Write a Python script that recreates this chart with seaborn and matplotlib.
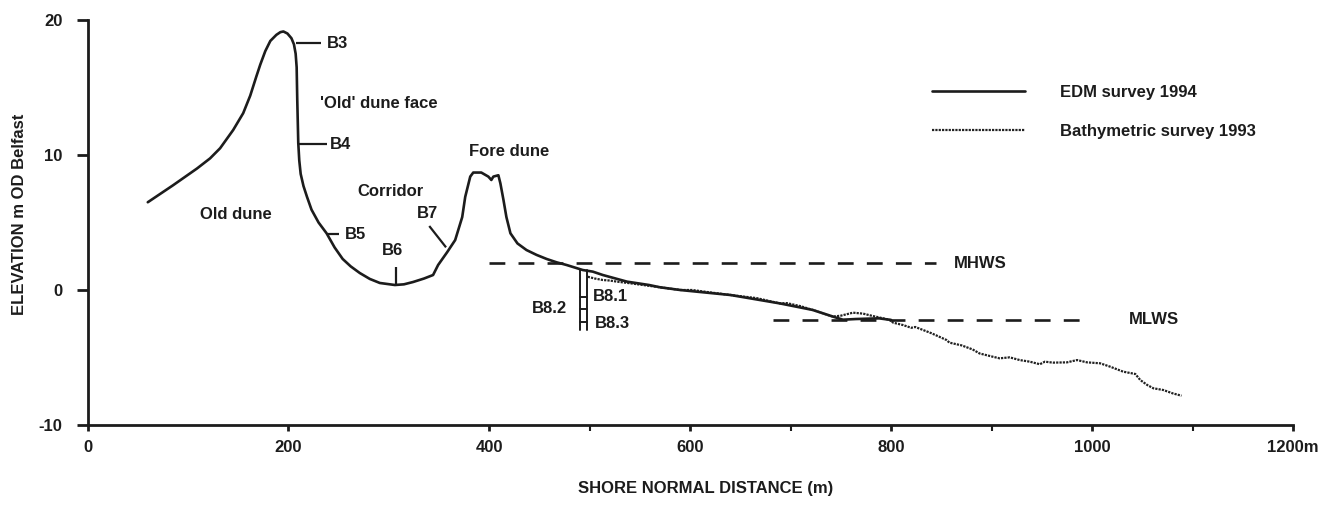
import numpy as np
import pandas as pd
import matplotlib
matplotlib.use("Agg")
import matplotlib.pyplot as plt
from matplotlib.ticker import FixedLocator
import seaborn as sns

# ---------------- data ----------------
edm_x = [60, 85, 109, 122, 132, 145, 155, 162, 168, 172, 177, 182, 188, 192, 195, 199, 203,
         205.5, 207.2, 208.2, 208.8, 209.8, 210.8, 212.2, 215, 218.5, 223, 230, 238, 246, 254,
         262, 271, 281, 291, 306, 315, 324, 335, 344, 349, 358, 366, 373, 376, 381, 384, 392,
         399, 402, 404, 409, 411, 414, 417, 421, 428, 437, 447, 457, 467, 477, 493, 503, 513,
         537, 559, 570, 590, 606, 640, 689, 722, 742, 752, 765, 788, 800]
edm_y = [6.5, 7.75, 9.0, 9.75, 10.5, 11.85, 13.1, 14.4, 15.8, 16.7, 17.7, 18.45, 18.9, 19.1,
         19.15, 19.0, 18.65, 18.2, 17.5, 16.5, 14.1, 10.9, 9.6, 8.6, 7.7, 6.9, 5.95, 5.0, 4.2,
         3.15, 2.3, 1.75, 1.26, 0.82, 0.52, 0.37, 0.42, 0.59, 0.85, 1.11, 1.85, 2.8, 3.7, 5.4,
         6.9, 8.4, 8.7, 8.7, 8.4, 8.15, 8.4, 8.5, 7.9, 6.7, 5.4, 4.2, 3.45, 2.96, 2.6, 2.3,
         2.05, 1.85, 1.48, 1.36, 1.11, 0.62, 0.37, 0.2, 0.0, -0.12, -0.37, -0.99, -1.48, -1.97,
         -2.2, -2.15, -2.1, -2.22]

bathy_x = [498, 505, 513, 520, 527, 540, 553, 570, 590, 602, 620, 640, 666, 689, 696, 710, 722,
           742, 750, 762, 772, 782, 799, 802, 812, 820, 824, 840, 855, 858, 870, 881, 888, 901,
           908, 918, 928, 938, 948, 953, 961, 975, 985, 995, 1008, 1018, 1031, 1043, 1048, 1055,
           1061, 1071, 1080, 1089]
bathy_y = [0.98, 0.85, 0.74, 0.70, 0.62, 0.50, 0.37, 0.20, 0.0, 0.0, -0.18, -0.37, -0.6, -0.99,
           -0.97, -1.2, -1.48, -1.97, -1.9, -1.68, -1.75, -1.93, -2.22, -2.42, -2.6, -2.8, -2.74,
           -3.2, -3.7, -3.9, -4.1, -4.4, -4.7, -4.94, -5.06, -4.99, -5.19, -5.31, -5.5, -5.31,
           -5.38, -5.36, -5.19, -5.36, -5.43, -5.68, -6.05, -6.22, -6.67, -7.04, -7.28, -7.41,
           -7.65, -7.83]

mhws_level = 2.0
mhws_x = [400, 845]
mlws_level = -2.22
mlws_x = [682, 998]

x_ticks = [0, 200, 400, 600, 800, 1000, 1200]
x_ticklabels = ["0", "200", "400", "600", "800", "1000", "1200m"]
x_minor = [500, 700, 900, 1100]
y_ticks = [-10, 0, 10, 20]
y_ticklabels = ["-10", "0", "10", "20"]

# borehole leader lines: (x0, x1, y0, y1)
leaders = {
    "B3": (207.5, 232.1, 18.27, 18.27),
    "B4": (209.8, 238.4, 10.81, 10.81),
    "B5": (239.5, 250.3, 4.13, 4.13),
    "B6": (306.8, 306.8, 1.68, 0.37),
    "B7": (340.2, 356.9, 4.74, 3.16),
}
b8_posts_x = [490, 497.5]
b8_top, b8_bottom = 1.48, -2.96
b8_rungs_y = [-0.5, -1.43, -2.35]

# text labels: (text, x, y, ha)
labels = [
    ("B3", 238.1, 18.27, "left"),
    ("B4", 241.5, 10.81, "left"),
    ("'Old' dune face", 231.4, 13.83, "left"),
    ("B5", 256.3, 4.13, "left"),
    ("B6", 304, 2.96, "center"),
    ("B7", 338, 5.7, "center"),
    ("Corridor", 302, 7.28, "center"),
    ("Fore dune", 419.6, 10.25, "center"),
    ("Old dune", 147.8, 5.56, "center"),
    ("MHWS", 862, 2.0, "left"),
    ("MLWS", 1037, -2.22, "left"),
    ("B8.1", 503, -0.5, "left"),
    ("B8.2", 477, -1.35, "right"),
    ("B8.3", 505, -2.45, "left"),
]

# ---------------- style ----------------
sns.set_theme(style="ticks")
plt.rcParams["font.family"] = ["Liberation Sans", "DejaVu Sans"]
plt.rcParams["font.weight"] = "bold"
plt.rcParams["axes.labelweight"] = "bold"
INK = "#1c1c1c"

W, H = 1321, 505
fig = plt.figure(figsize=(W / 100, H / 100), dpi=100)
fig.patch.set_facecolor("white")
ax = fig.add_axes([87.5 / W, 1 - 425 / H, (1293 - 87.5) / W, 405 / H])
ax.set_facecolor("white")

edm_df = pd.DataFrame({"x": edm_x, "y": edm_y})
bathy_df = pd.DataFrame({"x": bathy_x, "y": bathy_y})

sns.lineplot(data=bathy_df, x="x", y="y", sort=False, estimator=None, ax=ax,
             color="#222222", lw=1.6, linestyle=(0, (1, 0.5)))
bathy_line = ax.lines[-1]
sns.lineplot(data=edm_df, x="x", y="y", sort=False, estimator=None, ax=ax,
             color=INK, lw=1.9)
edm_line = ax.lines[-1]
edm_line.set_solid_joinstyle("round")

# tide levels
ax.plot(mhws_x, [mhws_level] * 2, color=INK, lw=1.9, dashes=(6, 5))
ax.plot(mlws_x, [mlws_level] * 2, color=INK, lw=1.9, dashes=(6, 5))

# borehole leader lines
for k, (x0, x1, y0, y1) in leaders.items():
    ax.plot([x0, x1], [y0, y1], color=INK, lw=1.6, solid_capstyle="butt")
for px in b8_posts_x:
    ax.plot([px, px], [b8_top, b8_bottom], color=INK, lw=1.4)
for ry in b8_rungs_y:
    ax.plot(b8_posts_x, [ry, ry], color=INK, lw=1.4)

for txt, x, y, ha in labels:
    ax.text(x, y, txt, ha=ha, va="center", fontsize=12, fontweight="bold", color=INK)

# axes
ax.set_xlim(0, 1200)
ax.set_ylim(-10, 20)
ax.set_xticks(x_ticks)
ax.set_xticklabels(x_ticklabels)
ax.xaxis.set_minor_locator(FixedLocator(x_minor))
ax.set_yticks(y_ticks)
ax.set_yticklabels(y_ticklabels)
for s in ["top", "right"]:
    ax.spines[s].set_visible(False)
for s in ["left", "bottom"]:
    ax.spines[s].set_linewidth(2.0)
    ax.spines[s].set_color(INK)
ax.tick_params(axis="y", length=8, width=2, pad=10, labelsize=12, colors=INK)
ax.tick_params(axis="x", which="major", length=4, width=2, pad=7, labelsize=12, colors=INK)
ax.tick_params(axis="x", which="minor", length=4, width=1.5, colors=INK)
for lab in ax.get_xticklabels() + ax.get_yticklabels():
    lab.set_fontweight("bold")

ax.set_xlabel("")
ax.set_ylabel("")
fig.text(706 / W, 1 - 488 / H, "SHORE NORMAL DISTANCE (m)", ha="center", va="center",
         fontsize=12, fontweight="bold", color=INK)
fig.text(20 / W, 1 - 214 / H, "ELEVATION m OD Belfast", ha="center", va="center",
         rotation=90, fontsize=12, fontweight="bold", color=INK)

leg = ax.legend(handles=[edm_line, bathy_line],
                labels=["EDM survey 1994", "Bathymetric survey 1993"],
                loc="upper left", bbox_to_anchor=(931.7 / W, 1 - 85 / H),
                bbox_transform=fig.transFigure, frameon=False, fontsize=12,
                handlelength=5.6, handletextpad=2.1, labelspacing=1.45,
                borderpad=0, borderaxespad=0)
for t in leg.get_texts():
    t.set_fontweight("bold")
    t.set_color(INK)

fig.savefig("out.png", dpi=100, facecolor="white")
